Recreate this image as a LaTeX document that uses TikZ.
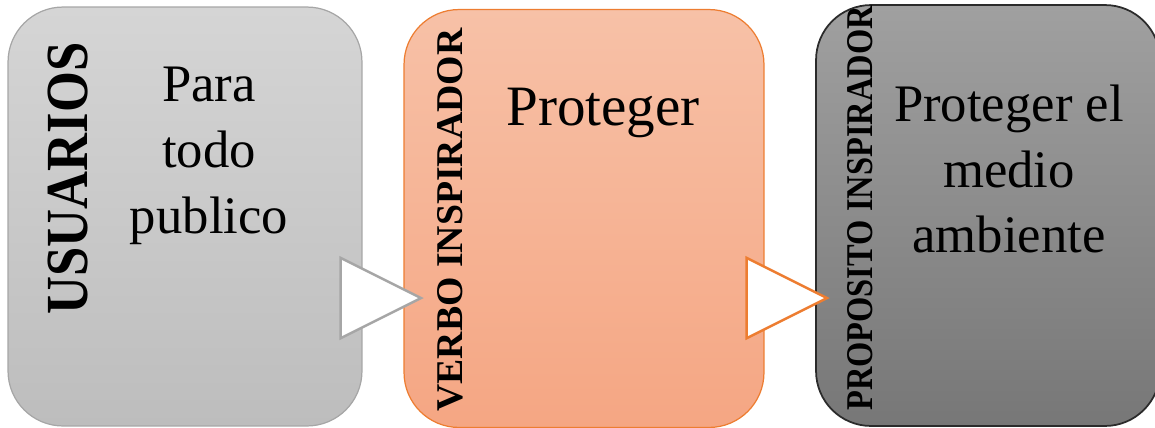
\documentclass[tikz,border=0pt]{standalone}
\usepackage{fontspec}
\setmainfont{Liberation Serif}
\usetikzlibrary{shapes.geometric}
\definecolor{grisborde}{HTML}{A6A6A6}
\definecolor{grisarriba}{HTML}{D5D5D5}
\definecolor{grisabajo}{HTML}{BDBDBD}
\definecolor{naranja}{HTML}{ED7D31}
\definecolor{naranjaarriba}{HTML}{F7C1A7}
\definecolor{naranjaabajo}{HTML}{F5A683}
\definecolor{oscuroborde}{HTML}{2B2B2B}
\definecolor{oscuroarriba}{HTML}{A0A0A0}
\definecolor{oscuroabajo}{HTML}{777777}
\tikzset{
  caja/.style={rounded corners=1.1cm,inner sep=0pt,line width=0.7pt},
  flecha/.style={isosceles triangle,isosceles triangle stretches,minimum width=1.61cm,minimum height=1.61cm,inner sep=0pt,outer sep=0pt,anchor=apex,fill=white,line width=1.4pt},
  rotulo/.style={rotate=90,inner sep=0pt},
  texto/.style={align=center,inner sep=0pt,font=\fontsize{30}{37.5}\selectfont}
}
\begin{document}
\begin{tikzpicture}[x=0.02cm,y=-0.02cm]
\useasboundingbox(0,0)rectangle(1155,427);
% cajas
\node[caja,draw=grisborde,top color=grisarriba,bottom color=grisabajo,minimum width=7.08cm,minimum height=8.38cm](usuarios)at(185,216.5){};
\node[caja,draw=naranja,top color=naranjaarriba,bottom color=naranjaabajo,minimum width=7.2cm,minimum height=8.36cm](verbo)at(584,218.5){};
\node[flecha,draw=grisborde](flecha1)at(421,298){};
\node[caja,draw=oscuroborde,line width=1pt,top color=oscuroarriba,bottom color=oscuroabajo,minimum width=6.88cm,minimum height=8.42cm](proposito)at(988,215.5){};
\node[flecha,draw=naranja](flecha2)at(827,298){};
% rotulos
\node[rotulo,font=\bfseries\fontsize{34}{34}\selectfont](usuariostxt)at(68,178.5){\scalebox{0.88}[1]{USUARIOS}};
\node[rotulo,font=\bfseries\fontsize{21.5}{21.5}\selectfont](verbotxt)at(450,220){VERBO INSPIRADOR};
\node[rotulo,font=\bfseries\fontsize{21.5}{21.5}\selectfont](propositotxt)at(860.5,208.5){\scalebox{0.86}[1]{PROPOSITO INSPIRADOR}};
% textos
\node[texto](paratxt)at(209,156){Para\\todo\\publico};
\node[texto,font=\fontsize{32.5}{32.5}\selectfont,anchor=base](protegertxt)at(603,125){Proteger};
\node[texto](medioamb)at(1009,169){Proteger el\\medio\\ambiente};
\end{tikzpicture}
\end{document}
